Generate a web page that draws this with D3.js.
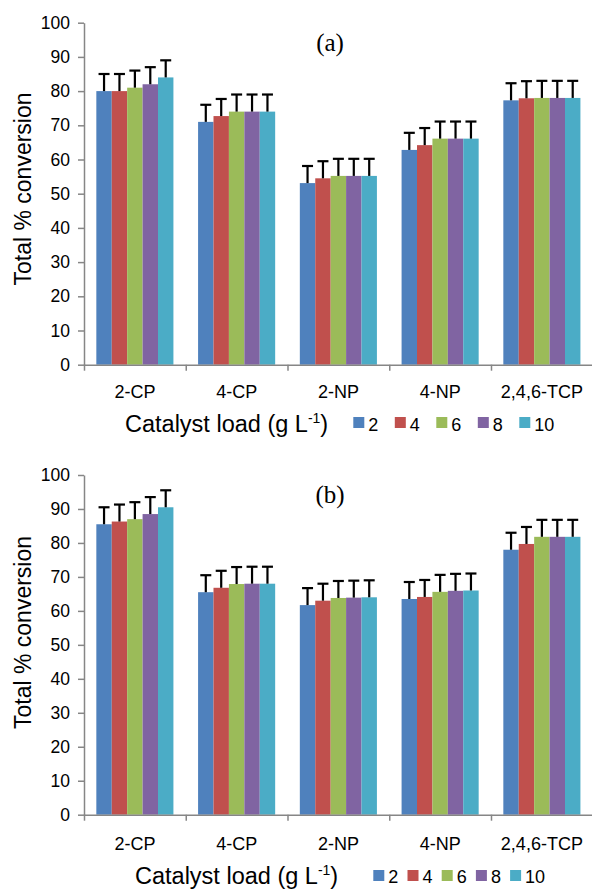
<!DOCTYPE html>
<html>
<head>
<meta charset="utf-8">
<script src="https://cdn.jsdelivr.net/npm/d3@7"></script>
<style>
  body { margin: 0; background: #fff; }
  svg { display: block; }
</style>
</head>
<body>
<div id="chart"></div>
<script>
// Data
const compounds = ["2-CP", "4-CP", "2-NP", "4-NP", "2,4,6-TCP"];
const loads = ["2", "4", "6", "8", "10"];
const yTicks = [0, 10, 20, 30, 40, 50, 60, 70, 80, 90, 100];

// rows = compounds, columns = catalyst loads
const valuesA = [
  [80, 80, 81, 82, 84],
  [71, 72.7, 74, 74, 74],
  [53.1, 54.5, 55.2, 55.2, 55.2],
  [62.8, 64.2, 66.1, 66.1, 66.1],
  [77.3, 77.9, 78, 78, 78],
];
const valuesB = [
  [85.5, 86.3, 87, 88.5, 90.5],
  [65.5, 66.8, 67.9, 68, 68],
  [61.7, 63, 63.8, 63.9, 64],
  [63.5, 64.1, 65.6, 65.9, 66],
  [78, 79.7, 81.8, 81.8, 81.8],
];
const errorBar = 5;

const colors = ["#4f81bd", "#c0504d", "#9bbb59", "#8064a2", "#4bacc6"];

(function runApp() {
  const width = 592;
  const height = 889;
  const axisColor = "#868686";
  const sans = "'Liberation Sans', Arial, sans-serif";
  const serif = "'Liberation Serif', 'Times New Roman', serif";

  const svg = d3
    .select("#chart")
    .append("svg")
    .attr("width", width)
    .attr("height", height);

  const panels = [
    {
      label: "(a)", values: valuesA,
      top: 22.7, bottom: 364.7, labelY: 51,
      tickPad: 21, yTitleY: 189,
      xTitleX: 125, xTitleY: 432,
      legendX: 353.3, legendStep: 41.5, legendY: 417, legendTextY: 430.7,
    },
    {
      label: "(b)", values: valuesB,
      top: 475, bottom: 814.7, labelY: 503,
      tickPad: 23, yTitleY: 632.5,
      xTitleX: 135, xTitleY: 884.3,
      legendX: 373.3, legendStep: 34.2, legendY: 870, legendTextY: 883.3,
    },
  ];

  const left = 84;
  const right = 592.75;

  function drawPanel(p) {
    const g = svg.append("g");

    const x = d3.scaleBand().domain(compounds).range([left, right]).padding(0);
    const xInner = d3
      .scaleBand()
      .domain(loads)
      .range([0, x.bandwidth()])
      .paddingInner(0)
      .paddingOuter(0.8);
    const y = d3.scaleLinear().domain([0, 100]).range([p.bottom, p.top]);

    // bars
    const groups = g
      .selectAll(".group")
      .data(compounds)
      .join("g")
      .attr("class", "group")
      .attr("transform", (c) => `translate(${x(c)},0)`);

    groups
      .selectAll("rect")
      .data((c, i) => p.values[i].map((v, j) => ({ load: loads[j], v, j })))
      .join("rect")
      .attr("x", (d) => xInner(d.load))
      .attr("width", xInner.bandwidth())
      .attr("y", (d) => y(d.v))
      .attr("height", (d) => y(0) - y(d.v))
      .attr("fill", (d) => colors[d.j]);

    // error bars (upper only)
    const err = groups
      .selectAll(".err")
      .data((c, i) => p.values[i].map((v, j) => ({ load: loads[j], v })))
      .join("g")
      .attr("class", "err")
      .attr("stroke", "#000")
      .attr("stroke-width", 2.2);

    const cx = (d) => xInner(d.load) + xInner.bandwidth() / 2;
    err
      .append("line")
      .attr("x1", cx)
      .attr("x2", cx)
      .attr("y1", (d) => y(d.v))
      .attr("y2", (d) => y(d.v + errorBar));
    err
      .append("line")
      .attr("x1", (d) => cx(d) - 5.5)
      .attr("x2", (d) => cx(d) + 5.5)
      .attr("y1", (d) => y(d.v + errorBar))
      .attr("y2", (d) => y(d.v + errorBar));

    // y axis
    const yAxis = g
      .append("g")
      .attr("transform", `translate(${left},0)`)
      .call(
        d3.axisLeft(y).tickValues(yTicks).tickSize(6).tickSizeOuter(0).tickPadding(8)
      );
    yAxis.selectAll("path, line").attr("stroke", axisColor).attr("stroke-width", 1.5);
    yAxis
      .selectAll("text")
      .attr("fill", "#000")
      .style("font-family", sans)
      .style("font-size", "17.5px");

    // x axis: boundary ticks
    const xBound = d3.scaleLinear().domain([0, compounds.length]).range([left, right]);
    const xTickAxis = g
      .append("g")
      .attr("transform", `translate(0,${p.bottom})`)
      .call(
        d3.axisBottom(xBound).tickValues(d3.range(compounds.length + 1))
          .tickSize(6).tickSizeOuter(0).tickFormat("")
      );
    xTickAxis.selectAll("path, line").attr("stroke", axisColor).attr("stroke-width", 1.5);

    // x axis labels
    const xLabels = g
      .append("g")
      .attr("transform", `translate(0,${p.bottom})`)
      .call(d3.axisBottom(x).tickSize(0).tickPadding(p.tickPad));
    xLabels.select(".domain").remove();
    xLabels
      .selectAll("text")
      .attr("fill", "#000")
      .style("font-family", sans)
      .style("font-size", "18px");

    // panel label
    g.append("text")
      .attr("x", 330)
      .attr("y", p.labelY)
      .attr("text-anchor", "middle")
      .style("font-family", serif)
      .style("font-size", "25px")
      .text(p.label);

    // y title
    g.append("text")
      .attr("transform", `translate(31,${p.yTitleY}) rotate(-90)`)
      .attr("text-anchor", "middle")
      .style("font-family", sans)
      .style("font-size", "23px")
      .text("Total % conversion");

    // x title
    const xt = g
      .append("text")
      .attr("x", p.xTitleX)
      .attr("y", p.xTitleY)
      .style("font-family", sans)
      .style("font-size", "23.5px");
    xt.append("tspan").text("Catalyst load (g L");
    xt.append("tspan").attr("dy", -9).style("font-size", "14px").text("-1");
    xt.append("tspan").attr("dy", 9).text(")");

    // legend
    const legend = g
      .selectAll(".legend")
      .data(loads)
      .join("g")
      .attr("class", "legend")
      .attr("transform", (d, i) => `translate(${p.legendX + i * p.legendStep},0)`);
    legend
      .append("rect")
      .attr("y", p.legendY)
      .attr("width", 11)
      .attr("height", 11)
      .attr("fill", (d, i) => colors[i]);
    legend
      .append("text")
      .attr("x", 15)
      .attr("y", p.legendTextY)
      .style("font-family", sans)
      .style("font-size", "18px")
      .text((d) => d);
  }

  panels.forEach(drawPanel);
})();
</script>
</body>
</html>
